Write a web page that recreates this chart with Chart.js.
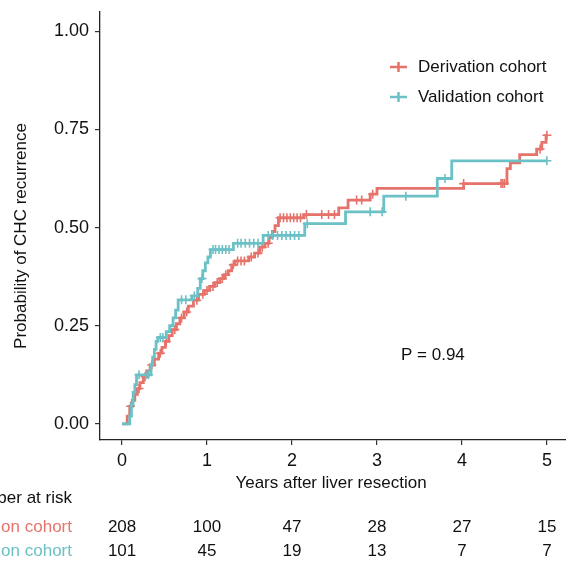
<!DOCTYPE html>
<html>
<head>
<meta charset="utf-8">
<script src="https://cdn.jsdelivr.net/npm/chart.js@4/dist/chart.umd.min.js"></script>
<style>
  body { margin: 0; background: #fff; }
  canvas { display: block; }
</style>
</head>
<body>
<canvas id="km" width="566" height="562"></canvas>
<script>
// Cumulative incidence (step values after each event time)
const derivTimes = [0, 0.06, 0.09, 0.12, 0.15, 0.18, 0.21, 0.25, 0.29, 0.33, 0.38, 0.43, 0.47, 0.51, 0.55, 0.59, 0.64, 0.68, 0.73, 0.78, 0.84, 0.90, 0.97, 1.03, 1.09, 1.15, 1.20, 1.25, 1.29, 1.33, 1.49, 1.56, 1.62, 1.68, 1.73, 1.77, 1.80, 1.84, 2.14, 2.55, 2.66, 2.92, 3.00, 4.02, 4.53, 4.57, 4.68, 4.88, 4.94, 4.99, 5.0];
const derivProb  = [0, 0.02, 0.045, 0.06, 0.075, 0.09, 0.105, 0.12, 0.135, 0.15, 0.165, 0.18, 0.195, 0.21, 0.225, 0.24, 0.255, 0.27, 0.285, 0.30, 0.315, 0.33, 0.34, 0.35, 0.36, 0.37, 0.38, 0.39, 0.405, 0.415, 0.425, 0.435, 0.45, 0.46, 0.475, 0.49, 0.505, 0.525, 0.533, 0.55, 0.57, 0.585, 0.60, 0.612, 0.65, 0.665, 0.686, 0.70, 0.717, 0.735, 0.735];
const derivCensor = [0.10, 0.20, 0.27, 0.35, 0.45, 0.52, 0.62, 0.70, 0.76, 0.88, 0.95, 1.00, 1.07, 1.12, 1.18, 1.22, 1.31, 1.36, 1.40, 1.44, 1.52, 1.60, 1.65, 1.72, 1.86, 1.90, 1.94, 1.98, 2.02, 2.06, 2.10, 2.17, 2.35, 2.43, 2.50, 2.76, 2.82, 2.95, 4.02, 4.46, 4.48, 4.50, 4.92, 5.00];

const validTimes = [0, 0.09, 0.11, 0.13, 0.15, 0.17, 0.34, 0.36, 0.38, 0.40, 0.42, 0.52, 0.56, 0.60, 0.63, 0.66, 0.82, 0.89, 0.92, 0.95, 0.98, 1.01, 1.04, 1.31, 1.66, 2.15, 2.63, 3.08, 3.71, 3.88, 5.0];
const validProb  = [0, 0.02, 0.05, 0.08, 0.10, 0.125, 0.15, 0.17, 0.19, 0.21, 0.22, 0.235, 0.25, 0.27, 0.29, 0.316, 0.326, 0.345, 0.37, 0.39, 0.41, 0.425, 0.444, 0.46, 0.48, 0.51, 0.54, 0.58, 0.625, 0.67, 0.67];
const validCensor = [0.20, 0.28, 0.31, 0.45, 0.48, 0.70, 0.75, 0.85, 0.94, 1.07, 1.10, 1.14, 1.18, 1.22, 1.26, 1.36, 1.40, 1.45, 1.50, 1.55, 1.60, 1.72, 1.77, 1.83, 1.88, 1.93, 1.98, 2.03, 2.08, 2.18, 2.92, 3.06, 3.34, 3.80, 5.00];

const xTicks = [0, 1, 2, 3, 4, 5];
const yTicks = [0, 0.25, 0.5, 0.75, 1];
const riskDeriv = [208, 100, 47, 28, 27, 15];
const riskValid = [101, 45, 19, 13, 7, 7];

const RED = '#E6736B';
const TEAL = '#6BC1C5';
const FONT = '"Liberation Sans", Arial, sans-serif';

function toPoints(times, probs) {
    return times.map((t, i) => ({x: t, y: probs[i]}));
}

// value of the step curve at time t (last step at or before t)
function stepAt(times, probs, t) {
    let v = 0;
    for (let i = 0; i < times.length; i++) {
        if (times[i] <= t) v = probs[i];
    }
    return v;
}

function censorPoints(censor, times, probs) {
    return censor.map(t => ({x: t, y: stepAt(times, probs, t)}));
}

const annotations = {
    id: 'annotations',
    afterDraw(chart) {
        const ctx = chart.ctx;
        const xs = chart.scales.x;
        ctx.save();
        ctx.fillStyle = '#111';
        ctx.font = '17px ' + FONT;
        ctx.textBaseline = 'middle';

        // axis titles
        ctx.textAlign = 'center';
        ctx.fillText('Years after liver resection', 331, 483);
        ctx.save();
        ctx.translate(21, 236);
        ctx.rotate(-Math.PI / 2);
        ctx.fillText('Probability of CHC recurrence', 0, 0);
        ctx.restore();

        // p value
        ctx.textAlign = 'left';
        ctx.fillText('P = 0.94', 401, 355);

        // legend
        const legend = [['Derivation cohort', RED, 67], ['Validation cohort', TEAL, 97]];
        legend.forEach(([label, color, y]) => {
            ctx.strokeStyle = color;
            ctx.lineWidth = 2.5;
            ctx.beginPath();
            ctx.moveTo(390, y); ctx.lineTo(407, y);
            ctx.moveTo(398.5, y - 5); ctx.lineTo(398.5, y + 5);
            ctx.stroke();
            ctx.fillStyle = '#111';
            ctx.fillText(label, 418, y);
        });

        // number at risk table
        ctx.textAlign = 'right';
        ctx.fillStyle = '#111';
        ctx.fillText('Number at risk', 72, 498);
        ctx.fillStyle = RED;
        ctx.fillText('Derivation cohort', 72, 527);
        ctx.fillStyle = TEAL;
        ctx.fillText('Validation cohort', 72, 551);

        ctx.textAlign = 'center';
        ctx.fillStyle = '#111';
        xTicks.forEach((t, i) => {
            const px = xs.getPixelForValue(t);
            ctx.fillText(String(riskDeriv[i]), px, 527);
            ctx.fillText(String(riskValid[i]), px, 551);
        });
        ctx.restore();
    }
};

new Chart(document.getElementById('km'), {
    type: 'scatter',
    data: {
        datasets: [
            {
                label: 'Validation cohort',
                data: toPoints(validTimes, validProb),
                showLine: true, stepped: true,
                borderColor: TEAL, borderWidth: 2.8,
                pointRadius: 0, order: 1
            },
            {
                label: 'Validation censor',
                data: censorPoints(validCensor, validTimes, validProb),
                showLine: false, pointStyle: 'cross',
                pointRadius: 4.5, borderColor: TEAL, borderWidth: 1.6, order: 0
            },
            {
                label: 'Derivation cohort',
                data: toPoints(derivTimes, derivProb),
                showLine: true, stepped: true,
                borderColor: RED, borderWidth: 2.8,
                pointRadius: 0, order: 3
            },
            {
                label: 'Derivation censor',
                data: censorPoints(derivCensor, derivTimes, derivProb),
                showLine: false, pointStyle: 'cross',
                pointRadius: 4.5, borderColor: RED, borderWidth: 1.6, order: 2
            }
        ]
    },
    options: {
        responsive: false,
        animation: false,
        events: [],
        layout: {autoPadding: false, padding: {top: 12, left: 0, right: 0, bottom: 0}},
        plugins: {legend: {display: false}, tooltip: {enabled: false}},
        scales: {
            x: {
                type: 'linear', min: -0.26, max: 5.225,
                afterBuildTicks: s => { s.ticks = xTicks.map(v => ({value: v})); },
                afterFit: s => { s.height = 122; s.paddingLeft = 0; s.paddingRight = 0; },
                ticks: {color: '#111', font: {family: FONT, size: 18}, padding: 5,
                        maxRotation: 0, callback: v => String(v)},
                grid: {drawOnChartArea: false, tickLength: 5, color: '#333', lineWidth: 1.2},
                border: {color: '#222', width: 1.3}
            },
            y: {
                type: 'linear', min: -0.041, max: 1.049,
                afterBuildTicks: s => { s.ticks = yTicks.map(v => ({value: v})); },
                afterFit: s => { s.width = 100; s.paddingTop = 0; s.paddingBottom = 0; },
                ticks: {color: '#111', font: {family: FONT, size: 18}, padding: 6,
                        callback: v => v.toFixed(2)},
                grid: {drawOnChartArea: false, tickLength: 5, color: '#333', lineWidth: 1.2},
                border: {color: '#222', width: 1.3}
            }
        }
    },
    plugins: [annotations]
});
</script>
</body>
</html>
